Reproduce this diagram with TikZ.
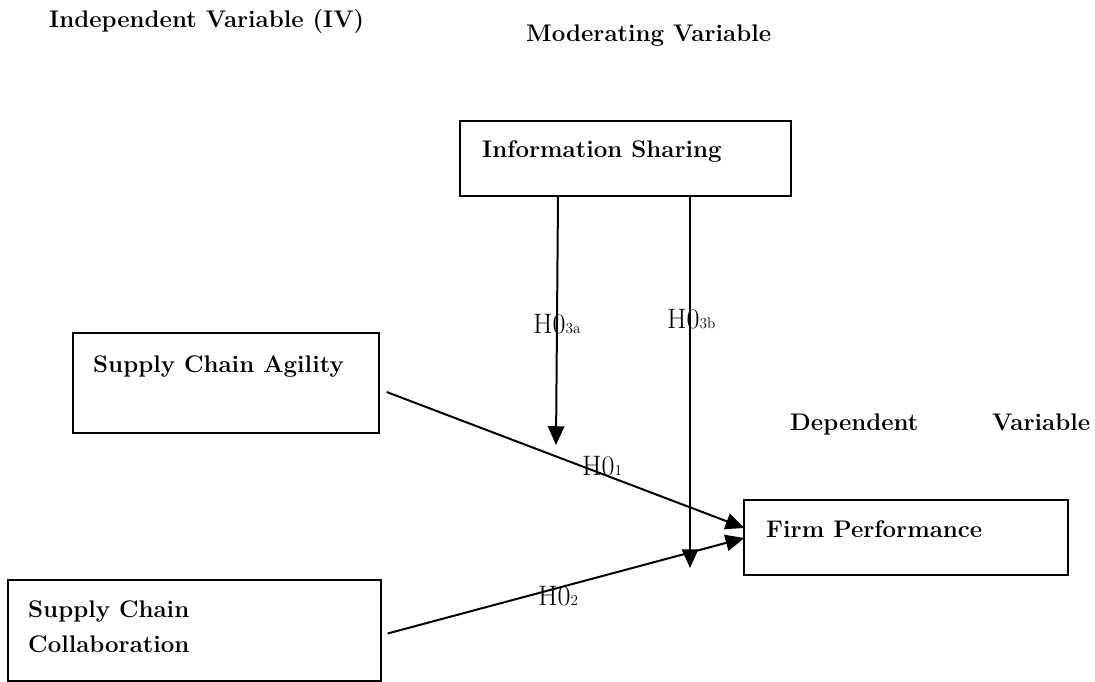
\documentclass[tikz,border=0pt]{standalone}
\usetikzlibrary{arrows.meta}
\begin{document}
\begin{tikzpicture}[x=0.03cm, y=-0.03cm,
		box/.style={draw=black, line width=1.1pt, inner sep=0pt},
		heading/.style={anchor=base west, inner sep=0pt, font=\fontsize{20.5}{24}\selectfont\bfseries},
		hyp/.style={anchor=base west, inner sep=0pt, font=\fontsize{24}{28}\selectfont},
		arr/.style={-{Triangle[length=16pt, width=14pt]}, black, line width=1.7pt}]
	\useasboundingbox (0,0) rectangle (1095,682);
	% headings
	\node[heading] (ivtitle) at (49, 28) {Independent Variable (IV)};
	\node[heading] (mvtitle) at (526, 42) {Moderating Variable};
	\node[heading] (dvtitle) at (790, 430) {Dependent};
	\node[heading] (dvtitle2) at (992, 430) {Variable};
	% boxes
	\node[box, minimum width=331*0.03cm, minimum height=75*0.03cm] (info) at (625.5, 158.5) {};
	\node[heading] (infotext) at (482, 158) {Information Sharing};
	\node[box, minimum width=306*0.03cm, minimum height=100*0.03cm] (agility) at (226, 383) {};
	\node[heading] (agilitytext) at (93, 372) {Supply Chain Agility};
	\node[box, minimum width=373*0.03cm, minimum height=101*0.03cm] (collab) at (194.5, 630.5) {};
	\node[heading] (collabtext) at (28, 617) {Supply Chain};
	\node[heading] (collabtext2) at (28, 652) {Collaboration};
	\node[box, minimum width=324*0.03cm, minimum height=75*0.03cm] (firm) at (906, 537.5) {};
	\node[heading] (firmtext) at (766, 537) {Firm Performance};
	% arrow ends
	\coordinate (enda) at (556, 445);
	\coordinate (endb) at (690, 568);
	% connectors
	\draw[arr] ([xshift=-67.5*0.03cm]info.south) -- (enda);
	\draw[arr] ([xshift=64.5*0.03cm]info.south) -- (endb);
	\draw[arr] ([shift={(7,9)}]agility.east) -- ([shift={(1,-9.5)}]firm.west);
	\draw[arr] ([shift={(6,3)}]collab.east) -- ([shift={(1,0.5)}]firm.west);
	% hypotheses
	\node[hyp] (h3a) at (533, 333) {H0{\fontsize{13}{15}\selectfont 3a}};
	\node[hyp] (h3b) at (667, 328) {H0{\fontsize{13}{15}\selectfont 3b}};
	\node[hyp] (h1) at (582, 475) {H0{\fontsize{13}{15}\selectfont 1}};
	\node[hyp] (h2) at (538, 605) {H0{\fontsize{13}{15}\selectfont 2}};
\end{tikzpicture}
\end{document}
